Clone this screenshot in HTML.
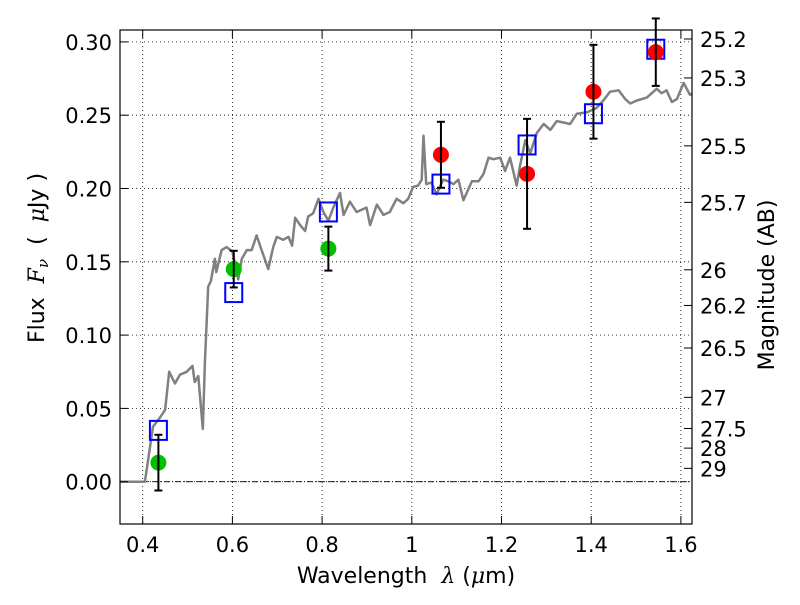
<!DOCTYPE html>
<html><head><meta charset="utf-8"><style>
html,body{margin:0;padding:0;background:#fff;}
svg text{font-family:"DejaVu Sans","Liberation Sans",sans-serif;white-space:pre;}
</style></head><body>
<svg id="chart" width="800" height="600" xmlns="http://www.w3.org/2000/svg"></svg>
<script>
const specLam=[0.35,0.405,0.423,0.439,0.450,0.459,0.472,0.483,0.498,0.511,0.516,0.524,0.534,0.539,0.546,0.552,0.561,0.564,0.576,0.587,0.600,0.613,0.621,0.632,0.643,0.654,0.665,0.680,0.691,0.699,0.713,0.725,0.733,0.740,0.751,0.762,0.769,0.780,0.792,0.803,0.814,0.825,0.840,0.848,0.862,0.877,0.899,0.907,0.922,0.937,0.951,0.966,0.981,0.992,1.003,1.014,1.022,1.026,1.032,1.044,1.055,1.070,1.081,1.093,1.104,1.115,1.134,1.149,1.160,1.171,1.182,1.197,1.208,1.219,1.234,1.241,1.253,1.264,1.279,1.294,1.309,1.323,1.338,1.353,1.368,1.391,1.412,1.427,1.442,1.461,1.476,1.487,1.502,1.524,1.546,1.557,1.568,1.580,1.591,1.606,1.620,1.630];
const specFlux=[0,0,0.0375,0.044,0.049,0.075,0.067,0.073,0.075,0.079,0.068,0.072,0.036,0.083,0.133,0.137,0.152,0.143,0.158,0.160,0.157,0.138,0.152,0.158,0.158,0.168,0.158,0.145,0.160,0.167,0.165,0.167,0.161,0.180,0.175,0.171,0.181,0.183,0.193,0.184,0.178,0.187,0.197,0.182,0.191,0.184,0.187,0.175,0.189,0.182,0.184,0.193,0.190,0.193,0.201,0.202,0.206,0.236,0.203,0.204,0.196,0.206,0.205,0.203,0.206,0.192,0.205,0.205,0.210,0.221,0.220,0.221,0.212,0.221,0.202,0.215,0.233,0.224,0.238,0.244,0.240,0.246,0.245,0.244,0.251,0.252,0.255,0.260,0.266,0.267,0.261,0.258,0.260,0.262,0.268,0.265,0.267,0.259,0.261,0.272,0.264,0.265];
const greenLam=[0.435,0.603,0.814];
const greenFlux=[0.013,0.145,0.159];
const greenErr=[0.019,0.0125,0.015];
const redLam=[1.065,1.257,1.405,1.544];
const redFlux=[0.223,0.210,0.266,0.293];
const redErr=[0.0225,0.0375,0.032,0.023];
const boxLam=[0.435,0.603,0.814,1.065,1.257,1.405,1.544];
const boxFlux=[0.035,0.129,0.184,0.203,0.2297,0.251,0.295];
const xTicks=[0.4,0.6,0.8,1.0,1.2,1.4,1.6];
const xTickLabels=["0.4","0.6","0.8","1","1.2","1.4","1.6"];
const yTicks=[0,0.05,0.10,0.15,0.20,0.25,0.30];
const yTickLabels=["0.00","0.05","0.10","0.15","0.20","0.25","0.30"];
const magTicks=[25.2,25.3,25.5,25.7,26,26.2,26.5,27,27.5,28,29];
const magLabels=["25.2","25.3","25.5","25.7","26","26.2","26.5","27","27.5","28","29"];

const L=120,R=692,T=30,B=524;
const x=v=>142.7+(v-0.4)*448.5;
const y=v=>481.7-v*1466;
const svg=document.getElementById('chart');
const NS='http://www.w3.org/2000/svg';
function mk(tag,attrs,parent){const e=document.createElementNS(NS,tag);for(const k in attrs)e.setAttribute(k,attrs[k]);(parent||svg).appendChild(e);return e;}

const grid=mk('g',{});


xTicks.forEach(t=>mk('line',{x1:x(t),x2:x(t),y1:T,y2:B,stroke:'#000','stroke-width':0.8,'stroke-dasharray':'1,3'},grid));
yTicks.forEach(t=>mk('line',{x1:L,x2:R,y1:y(t),y2:y(t),stroke:'#000','stroke-width':0.8,'stroke-dasharray':'1,3'},grid));
const zl=mk('line',{x1:L,x2:R,y1:y(0),y2:y(0),stroke:'#000','stroke-width':0.8,'stroke-dasharray':'6,2,1,2'});



const defs=mk('defs',{});
const cp=mk('clipPath',{id:'clip'},defs);
mk('rect',{x:L,y:T,width:R-L,height:B-T},cp);

let d='';
specLam.forEach((l,i)=>{d+=(i?'L':'M')+x(l).toFixed(1)+','+y(specFlux[i]).toFixed(1);});
const sp=mk('path',{d:d,fill:'none',stroke:'#808080','stroke-width':2.5,'clip-path':'url(#clip)','stroke-linejoin':'round'});



boxLam.forEach((l,i)=>{
  const r=mk('rect',{x:x(l)-8.5,y:y(boxFlux[i])-9.5,width:17,height:19,fill:'none',stroke:'#0000ff','stroke-width':2});
  
  
});
function pts(lams,fl,er,col,name){
  lams.forEach((l,i)=>{
    const g=mk('g',{});
    
    
    mk('circle',{cx:x(l),cy:y(fl[i]),r:8,fill:col},g);
    const y1=y(fl[i]+er[i]),y2=y(fl[i]-er[i]),cx=x(l);
    mk('line',{x1:cx,x2:cx,y1:y1,y2:y2,stroke:'#000','stroke-width':2},g);
    mk('line',{x1:cx-4,x2:cx+4,y1:y1,y2:y1,stroke:'#000','stroke-width':2},g);
    mk('line',{x1:cx-4,x2:cx+4,y1:y2,y2:y2,stroke:'#000','stroke-width':2},g);
  });
}
pts(greenLam,greenFlux,greenErr,'#00c000','green-point');
pts(redLam,redFlux,redErr,'#ff0000','red-point');

const fr=mk('rect',{x:L,y:T,width:R-L,height:B-T,fill:'none',stroke:'#000','stroke-width':1.2});



xTicks.forEach((t,i)=>{
  mk('line',{x1:x(t),x2:x(t),y1:B,y2:B-8,stroke:'#000'});
  mk('line',{x1:x(t),x2:x(t),y1:T,y2:T+8,stroke:'#000'});
  const tx=mk('text',{x:x(t),y:B+28,'font-size':21,'text-anchor':'middle'});
  tx.textContent=xTickLabels[i];
  
  
});
yTicks.forEach((t,i)=>{
  mk('line',{x1:L,x2:L+8,y1:y(t),y2:y(t),stroke:'#000'});
  const tx=mk('text',{x:L-8,y:y(t)+8,'font-size':21,'text-anchor':'end'});
  tx.textContent=yTickLabels[i];
  
  
});
magTicks.forEach((m,i)=>{
  const f=Math.pow(10,(23.9-m)/2.5);const yy=y(f);
  mk('line',{x1:R,x2:R-8,y1:yy,y2:yy,stroke:'#000'});
  const tx=mk('text',{x:R+8,y:yy+8,'font-size':21});
  tx.textContent=magLabels[i];
  
  
});

let t=mk('text',{x:406,y:583,'font-size':22,'text-anchor':'middle'});
t.innerHTML='Wavelength  <tspan font-style="italic" font-family="DejaVu Serif,serif">λ</tspan> (<tspan font-style="italic" font-family="DejaVu Serif,serif">μ</tspan>m)';


t=mk('text',{x:0,y:0,'font-size':22,'text-anchor':'middle',transform:'translate(44,258) rotate(-90)'});
t.innerHTML='Flux  <tspan font-style="italic" font-family="DejaVu Serif,serif">F</tspan><tspan font-style="italic" font-size="15" dy="4" font-family="DejaVu Serif,serif">ν</tspan><tspan dy="-4">  (  </tspan><tspan font-style="italic" font-family="DejaVu Serif,serif">μ</tspan>Jy )';


t=mk('text',{x:0,y:0,'font-size':22,'text-anchor':'middle',transform:'translate(774,285) rotate(-90)'});
t.textContent='Magnitude (AB)';


</script>
</body></html>
